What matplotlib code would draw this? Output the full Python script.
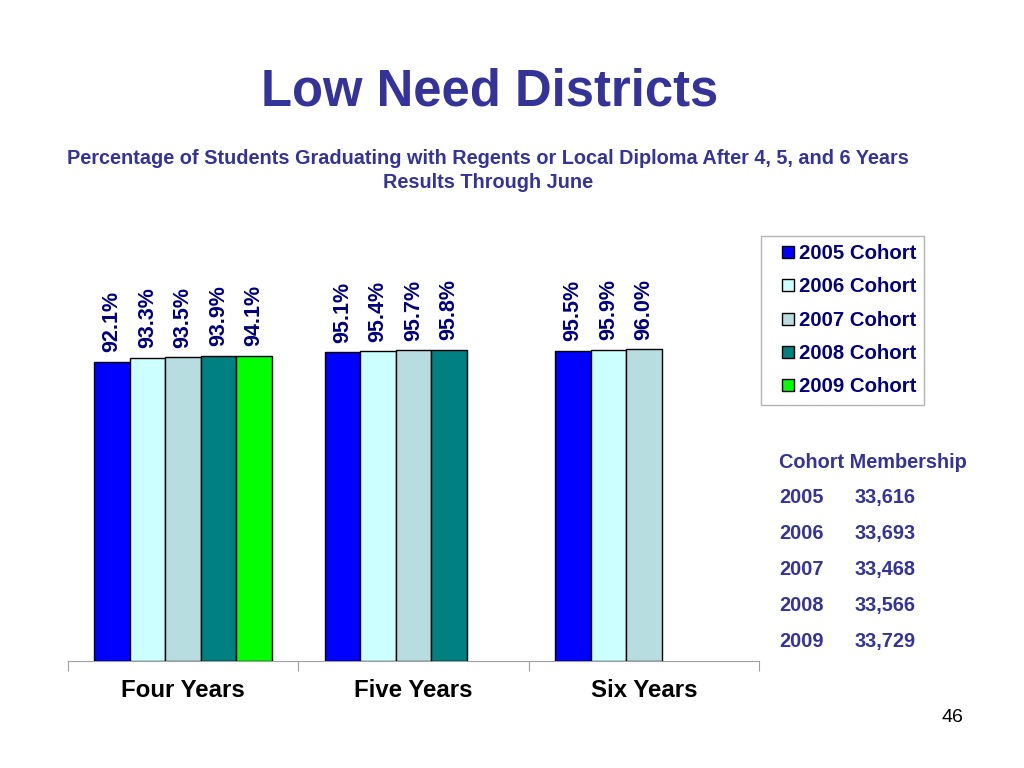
import numpy as np
import matplotlib
matplotlib.use('Agg')
import matplotlib.pyplot as plt
from matplotlib.lines import Line2D

plt.rcParams['font.family'] = ['Liberation Sans', 'DejaVu Sans']

# data
categories = ['Four Years', 'Five Years', 'Six Years']
cohorts = ['2005 Cohort', '2006 Cohort', '2007 Cohort', '2008 Cohort', '2009 Cohort']
rates = [
    [92.1, 95.1, 95.5],          # 2005
    [93.3, 95.4, 95.9],          # 2006
    [93.5, 95.7, 96.0],          # 2007
    [93.9, 95.8, np.nan],        # 2008
    [94.1, np.nan, np.nan],      # 2009
]
member_years = ['2005', '2006', '2007', '2008', '2009']
member_counts = ['33,616', '33,693', '33,468', '33,566', '33,729']

colors = ['#0000FF', '#CCFFFF', '#B8DDE0', '#008080', '#00FF00']
navy = '#000080'
purple = '#333399'

W, H = 1024, 768
fig = plt.figure(figsize=(W / 100, H / 100), dpi=100)

# axes placed in pixel terms: x 68..759, baseline at 661, 100% = 324.6px
ax = fig.add_axes([68 / W, 1 - 661 / H, (759 - 68) / W, 324.6 / H])
x = np.arange(len(categories))
bw = 0.154
for j, (lab, vals, c) in enumerate(zip(cohorts, rates, colors)):
    xs = x + (j - 2) * bw
    for xi, v in zip(xs, vals):
        if np.isnan(v):
            continue
        ax.bar(xi, v, width=bw, color=c, edgecolor='black', linewidth=1.0, zorder=3)
        ax.text(xi, v + 3.0, '%.1f%%' % v, rotation=90, ha='center', va='bottom',
                fontsize=15.5, fontweight='bold', color=navy, clip_on=False)

ax.set_xlim(-0.5, 2.5)
ax.set_ylim(0, 100)
for s in ['top', 'right', 'left']:
    ax.spines[s].set_visible(False)
ax.spines['bottom'].set_color('#a0a0a0')
ax.set_yticks([])
ax.set_xticks([-0.5, 0.5, 1.5, 2.5])
ax.set_xticklabels([])
ax.tick_params(axis='x', which='major', length=7, color='#a0a0a0')
ax.set_xticks(x, minor=True)
ax.set_xticklabels(categories, minor=True, fontsize=17.3, fontweight='bold')
ax.tick_params(axis='x', which='minor', length=0, pad=13)

# legend: square markers
handles = [Line2D([], [], marker='s', linestyle='none', markersize=8.6,
                  markerfacecolor=c, markeredgecolor='black', markeredgewidth=1.0, label=l)
           for l, c in zip(cohorts, colors)]
leg = fig.legend(handles=handles, loc='upper left', bbox_to_anchor=(761 / W, 1 - 236 / H),
                 prop={'weight': 'bold', 'size': 14.7}, frameon=True, fancybox=False,
                 handlelength=1.8, handletextpad=-0.35, labelspacing=0.7,
                 borderpad=0.4, borderaxespad=0)
leg.get_frame().set_edgecolor('#a0a0a0')
leg.get_frame().set_linewidth(1.0)
for t in leg.get_texts():
    t.set_color(navy)

fig.text(490 / W, 1 - 92 / H, 'Low Need Districts', ha='center', va='center',
         fontsize=36.5, fontweight='bold', color=purple)
fig.text(488 / W, 1 - 158 / H,
         'Percentage of Students Graduating with Regents or Local Diploma After 4, 5, and 6 Years',
         ha='center', va='center', fontsize=14.3, fontweight='bold', color=purple)
fig.text(488 / W, 1 - 182 / H, 'Results Through June', ha='center', va='center',
         fontsize=14.3, fontweight='bold', color=purple)

fig.text(779 / W, 1 - 468 / H, 'Cohort Membership', ha='left', va='baseline',
         fontsize=14.3, fontweight='bold', color=purple)
for i, (yr, n) in enumerate(zip(member_years, member_counts)):
    yy = 503 + i * 36
    fig.text(779 / W, 1 - yy / H, yr, ha='left', va='baseline', fontsize=14.3,
             fontweight='bold', color=purple)
    fig.text(855 / W, 1 - yy / H, n, ha='left', va='baseline', fontsize=14.3,
             fontweight='bold', color=purple)

fig.text(952 / W, 1 - 718 / H, '46', ha='center', va='center', fontsize=14, color='black')

fig.savefig('out.png', dpi=100)
